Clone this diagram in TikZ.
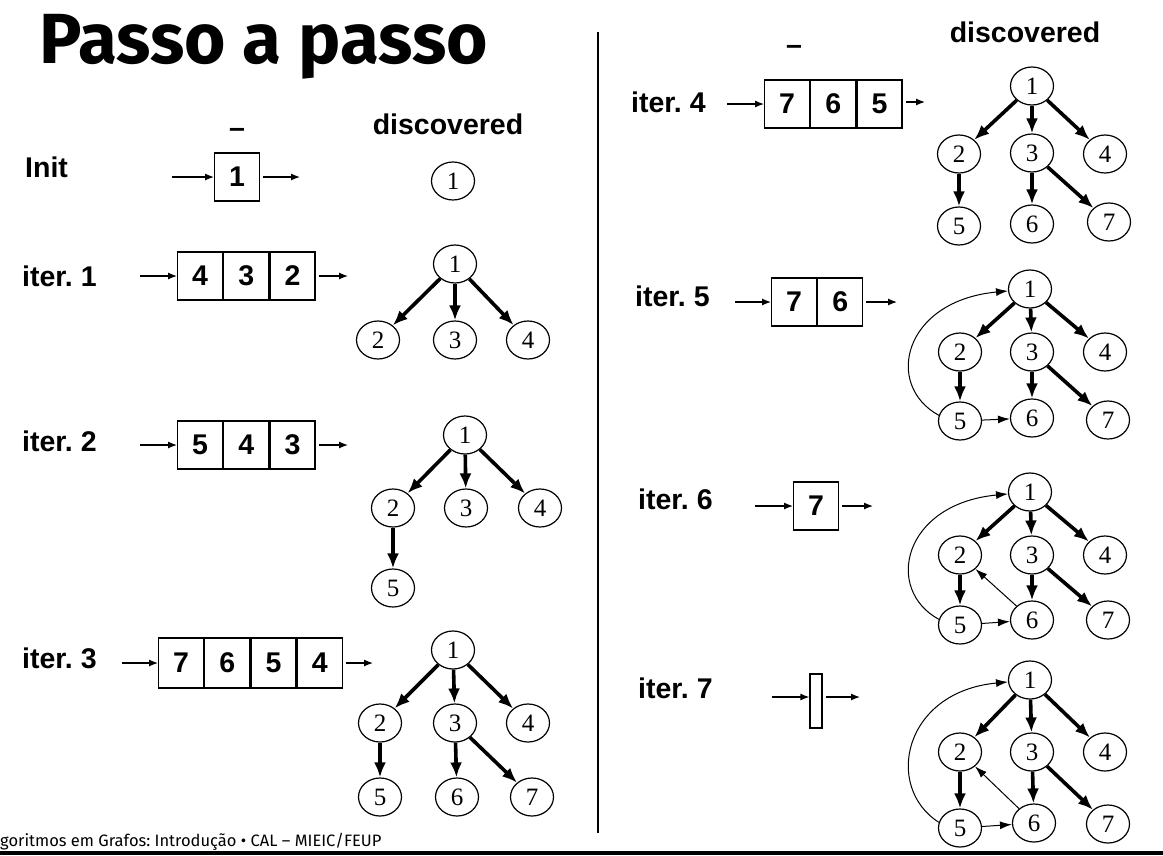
\documentclass[tikz,border=0pt]{standalone}
\usepackage{fontspec}
\setmainfont{Liberation Sans}
\newfontfamily\serifnum{Liberation Serif}
\newfontfamily\titlefont{Fira Sans}
\newfontfamily\footfont{Fira Sans}
\usetikzlibrary{shapes.geometric,arrows.meta}
\begin{document}
\frenchspacing
\begin{tikzpicture}[x=1pt,y=-1pt,
 lbl/.style={font=\fontsize{28.5}{30}\selectfont\bfseries, anchor=base west, inner sep=0},
 cell/.style={draw, line width=1.2pt, minimum width=45pt, minimum height=48pt, inner sep=0, font=\fontsize{28.5}{30}\selectfont\bfseries, anchor=west},
 vx/.style={draw, ellipse, line width=1.2pt, minimum width=43pt, minimum height=38pt, inner sep=0, font=\serifnum\fontsize{25}{25}\selectfont},
 qarr/.style={line width=1.2pt, -{Latex[length=9pt,width=7pt]}},
 tree/.style={line width=3.6pt, -{Latex[length=15pt,width=12pt]}},
 back/.style={line width=1pt, -{Latex[length=12pt,width=8pt]}},
]
\useasboundingbox (0,0) rectangle (1163,855);

% title, footer, divider
\node[anchor=base west, inner sep=0, font=\titlefont\bfseries\fontsize{71}{71}\selectfont] (title) at (39,63) {Passo a passo};
\node[anchor=base west, inner sep=0, font=\footfont\fontsize{16.5}{17}\selectfont] (foot) at (0,846) {goritmos em Grafos: Introdução • CAL – MIEIC/FEUP};
\draw[line width=4pt] (0,853) -- (1163,853);
\draw[line width=2pt] (598,32) -- (598,833);

% headers
\node[lbl, anchor=base] (us1) at (237,137) {–};
\node[lbl, anchor=base] (us2) at (794,54) {–};
\node[lbl, anchor=base] (d1) at (448,134) {discovered};
\node[lbl, anchor=base] (d2) at (1025,42) {discovered};

% labels
\node[lbl] (l0) at (25,177) {Init};
\node[lbl] (l1) at (22,286) {iter. 1};
\node[lbl] (l2) at (22,451) {iter. 2};
\node[lbl] (l3) at (22,668) {iter. 3};
\node[lbl] (l4) at (631,112) {iter. 4};
\node[lbl] (l5) at (635,306) {iter. 5};
\node[lbl] (l6) at (638,509) {iter. 6};
\node[lbl] (l7) at (638,698) {iter. 7};

% queues
% init
\node[cell] (q0a) at (214,177) {1};
\coordinate (q0i) at (172,177); \coordinate (q0o) at (300,177);
\draw[qarr] (q0i) -- (q0a.west); \draw[qarr, shorten <=3pt] (q0a.east) -- (q0o);
% iter 1
\node[cell] (q1a) at (177,276) {4};
\node[cell] (q1b) at (q1a.east) {3};
\node[cell] (q1c) at (q1b.east) {2};
\coordinate (q1i) at (140,276); \coordinate (q1o) at (348,276);
\draw[qarr] (q1i) -- (q1a.west); \draw[qarr, shorten <=3pt] (q1c.east) -- (q1o);
% iter 2
\node[cell] (q2a) at (177,445) {5};
\node[cell] (q2b) at (q2a.east) {4};
\node[cell] (q2c) at (q2b.east) {3};
\coordinate (q2i) at (140,445); \coordinate (q2o) at (348,445);
\draw[qarr] (q2i) -- (q2a.west); \draw[qarr, shorten <=3pt] (q2c.east) -- (q2o);
% iter 3
\node[cell, minimum height=50pt] (q3a) at (158,663) {7};
\node[cell, minimum height=50pt] (q3b) at (q3a.east) {6};
\node[cell, minimum height=50pt] (q3c) at (q3b.east) {5};
\node[cell, minimum height=50pt] (q3d) at (q3c.east) {4};
\coordinate (q3i) at (122,663); \coordinate (q3o) at (373,663);
\draw[qarr] (q3i) -- (q3a.west); \draw[qarr, shorten <=3pt] (q3d.east) -- (q3o);
% iter 4
\node[cell] (q4a) at (764,104) {7};
\node[cell] (q4b) at (q4a.east) {6};
\node[cell] (q4c) at (q4b.east) {5};
\coordinate (q4i) at (727,104); \coordinate (q4o) at (925,102);
\draw[qarr] (q4i) -- (q4a.west); \draw[qarr, shorten <=3pt] (q4c.east |- q4o) -- (q4o);
% iter 5
\node[cell] (q5a) at (771,302) {7};
\node[cell] (q5b) at (q5a.east) {6};
\coordinate (q5i) at (735,302); \coordinate (q5o) at (897,302);
\draw[qarr] (q5i) -- (q5a.west); \draw[qarr, shorten <=3pt] (q5b.east) -- (q5o);
% iter 6
\node[cell] (q6a) at (793,506) {7};
\coordinate (q6i) at (755,506); \coordinate (q6o) at (873,506);
\draw[qarr] (q6i) -- (q6a.west); \draw[qarr, shorten <=3pt] (q6a.east) -- (q6o);
% iter 7
\node[draw, line width=1.2pt, minimum width=12pt, minimum height=54pt, inner sep=0] (q7a) at (816,701) {};
\coordinate (q7i) at (772,697); \coordinate (q7o) at (860,697);
\draw[qarr] (q7i) -- (q7i -| q7a.west); \draw[qarr, shorten <=3pt] (q7o -| q7a.east) -- (q7o);

% trees
\node[vx] (a1) at (453,181) {1};

\foreach \n/\x/\y in {1/455/264, 2/378/340, 3/455/340, 4/528/340}
  \node[vx] (b\n) at (\x,\y) {\n};
\foreach \s/\t in {1/2, 1/3, 1/4} \draw[tree] (b\s) -- (b\t);

\foreach \n/\x/\y in {1/465/435, 2/393/508, 3/466/508, 4/540/508, 5/393/588}
  \node[vx] (c\n) at (\x,\y) {\n};
\foreach \s/\t in {1/2, 1/3, 1/4, 2/5} \draw[tree] (c\s) -- (c\t);

\foreach \n/\x/\y in {1/453/650, 2/380/723, 3/455/723, 4/528/723, 5/380/797, 6/457/797, 7/532/797}
  \node[vx] (e\n) at (\x,\y) {\n};
\foreach \s/\t in {1/2, 1/3, 1/4, 2/5, 3/6, 3/7} \draw[tree] (e\s) -- (e\t);

\foreach \n/\x/\y in {1/1032/86, 2/959/154, 3/1032/153, 4/1105/154, 5/959/226, 6/1032/224, 7/1109/222}
  \node[vx] (f\n) at (\x,\y) {\n};
\foreach \s/\t in {1/2, 1/3, 1/4, 2/5, 3/6, 3/7} \draw[tree] (f\s) -- (f\t);

\foreach \n/\x/\y in {1/1030/289, 2/960/352, 3/1032/352, 4/1105/352, 5/960/421, 6/1032/418, 7/1108/420}
  \node[vx] (g\n) at (\x,\y) {\n};
\foreach \s/\t in {1/2, 1/3, 1/4, 2/5, 3/6, 3/7} \draw[tree] (g\s) -- (g\t);
\draw[back] (g5.165) .. controls +(-55,-30) and +(-105,10) .. (g1.185);
\draw[back] (g5) -- (g6);

\foreach \n/\x/\y in {1/1030/492, 2/960/555, 3/1032/555, 4/1105/555, 5/960/625, 6/1032/620, 7/1108/620}
  \node[vx] (h\n) at (\x,\y) {\n};
\foreach \s/\t in {1/2, 1/3, 1/4, 2/5, 3/6, 3/7} \draw[tree] (h\s) -- (h\t);
\draw[back] (h5.165) .. controls +(-55,-30) and +(-105,10) .. (h1.185);
\draw[back] (h5) -- (h6);
\draw[back] (h6) -- (h2);

\foreach \n/\x/\y in {1/1030/680, 2/960/752, 3/1032/752, 4/1105/752, 5/960/828, 6/1034/823, 7/1108/824}
  \node[vx] (k\n) at (\x,\y) {\n};
\foreach \s/\t in {1/2, 1/3, 1/4, 2/5, 3/6, 3/7} \draw[tree] (k\s) -- (k\t);
\draw[back] (k5.165) .. controls +(-55,-35) and +(-105,10) .. (k1.185);
\draw[back] (k5) -- (k6);
\draw[back] (k6) -- (k2);
\end{tikzpicture}
\end{document}
